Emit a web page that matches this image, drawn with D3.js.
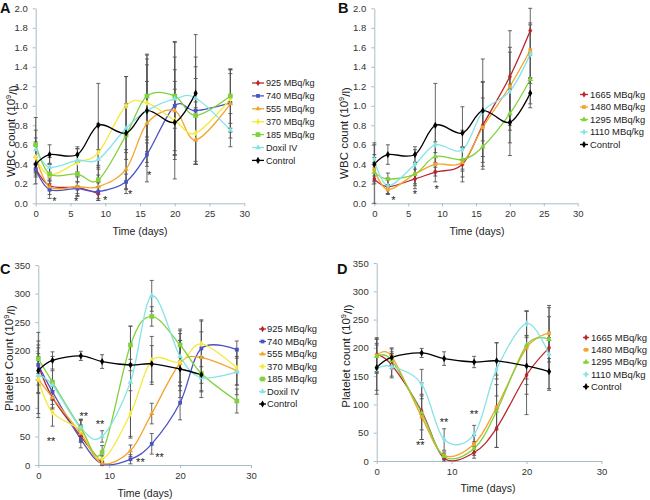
<!DOCTYPE html>
<html><head><meta charset="utf-8">
<script src="https://cdn.jsdelivr.net/npm/d3@7"></script>
<style>body{margin:0;background:#fff} svg{font-family:Arial,"Liberation Sans",sans-serif}</style>
</head><body><svg id="c" width="650" height="500"></svg>
<script>
// ---------- data ----------
const daysLong  = [0, 2, 6, 9, 13, 16, 20, 23, 28];
const daysShort = [0, 2, 6, 9, 13, 16, 20, 23];
const daysEarly = [0, 2, 6, 9];

const wbcTicks = [0, 0.2, 0.4, 0.6, 0.8, 1.0, 1.2, 1.4, 1.6, 1.8, 2.0];
const pltTicks = [0, 50, 100, 150, 200, 250, 300, 350];
const dayTicksAB = [0, 5, 10, 15, 20, 25, 30];
const dayTicksCD = [0, 10, 20, 30];

const namesAC = ["925 MBq/kg", "740 MBq/kg", "555 MBq/kg", "370 MBq/kg", "185 MBq/kg", "Doxil IV", "Control"];
const namesBD = ["1665 MBq/kg", "1480 MBq/kg", "1295 MBq/kg", "1110 MBq/kg", "Control"];

// Panel A: WBC count (10^9/l)
const wbcA_925   = [0.36, 0.18, 0.16, 0.10];
const wbcA_740   = [0.35, 0.14, 0.15, 0.12, 0.22, 0.50, 1.00, 0.95, 1.03];
const wbcA_555   = [0.48, 0.17, 0.17, 0.17, 0.35, 0.82, 0.95, 0.65, 1.02];
const wbcA_370   = [0.47, 0.29, 0.42, 0.52, 1.00, 1.03, 0.85, 0.72, 1.07];
const wbcA_185   = [0.60, 0.30, 0.30, 0.24, 0.70, 1.10, 1.10, 0.90, 1.10];
const wbcA_doxil = [0.55, 0.37, 0.44, 0.45, 0.77, 0.95, 1.07, 1.08, 0.75];
const wbcControl = [0.40, 0.50, 0.50, 0.80, 0.72, 0.95, 0.83, 1.13];
const errA_925   = [0.05, 0.05, 0.06, 0.07];
const errA_740   = [0.06, 0.09, 0.07, 0.09, 0.08, 0.12, 0.50, 0.55, 0.30];
const errA_555   = [0.15, 0.08, 0.10, 0.12, 0.20, 0.60, 0.70, 0.25, 0.35];
const errA_370   = [0.20, 0.12, 0.14, 0.30, 0.30, 0.50, 0.40, 0.32, 0.30];
const errA_185   = [0.28, 0.10, 0.12, 0.15, 0.60, 0.42, 0.56, 0.50, 0.28];
const errA_doxil = [0.20, 0.10, 0.12, 0.10, 0.25, 0.30, 0.30, 0.65, 0.17];
const errWbcControl = [0.20, 0.10, 0.08, 0.43, 0.27, 0.53, 0.34, 0.15];

// Panel B: WBC count (10^9/l)
const wbcB_1665 = [0.25, 0.17, 0.25, 0.32, 0.40, 0.80, 1.30, 1.77];
const wbcB_1480 = [0.35, 0.14, 0.30, 0.40, 0.42, 0.78, 1.20, 1.57];
const wbcB_1295 = [0.32, 0.25, 0.30, 0.48, 0.45, 0.58, 0.92, 1.27];
const wbcB_1110 = [0.45, 0.18, 0.40, 0.60, 0.55, 0.94, 1.15, 1.53];
const errB_1665 = [0.25, 0.07, 0.10, 0.10, 0.18, 0.45, 0.47, 0.23];
const errB_1480 = [0.12, 0.05, 0.12, 0.12, 0.15, 0.30, 0.40, 0.28];
const errB_1295 = [0.10, 0.06, 0.10, 0.15, 0.12, 0.20, 0.30, 0.25];
const errB_1110 = [0.17, 0.08, 0.15, 0.20, 0.20, 0.30, 0.40, 0.30];

// Panel C: Platelet count (10^9/l)
const pltC_925   = [175, 118, 50, 3];
const pltC_740   = [175, 128, 45, 2, 10, 37, 109, 204, 202];
const pltC_555   = [150, 118, 55, 3, 25, 90, 178, 188, 165];
const pltC_370   = [150, 92, 60, 10, 90, 183, 180, 212, 170];
const pltC_185   = [186, 145, 65, 22, 210, 260, 210, 160, 112];
const pltC_doxil = [157, 140, 65, 50, 145, 296, 190, 153, 163];
const pltControl = [165, 183, 191, 181, 175, 177, 168, 158];
const errC_925   = [15, 12, 10, 3];
const errC_740   = [20, 15, 15, 3, 8, 18, 30, 50, 15];
const errC_555   = [60, 20, 15, 4, 10, 18, 40, 45, 25];
const errC_370   = [67, 24, 18, 6, 40, 42, 50, 40, 30];
const errC_185   = [46, 45, 15, 12, 33, 17, 28, 30, 21];
const errC_doxil = [30, 25, 15, 10, 98, 27, 45, 35, 40];
const errPltControl = [40, 15, 8, 12, 10, 32, 50, 30];

// Panel D: Platelet count (10^9/l)
const pltD_1665 = [188, 170, 88, 5, 15, 58, 152, 200];
const pltD_1480 = [186, 185, 78, 10, 30, 95, 200, 226];
const pltD_1295 = [185, 178, 85, 8, 22, 88, 205, 215];
const pltD_1110 = [163, 167, 136, 38, 47, 162, 243, 188];
const errD_1665 = [30, 20, 50, 5, 10, 34, 70, 75];
const errD_1480 = [30, 15, 40, 6, 15, 40, 65, 45];
const errD_1295 = [30, 15, 30, 5, 12, 64, 60, 40];
const errD_1110 = [45, 20, 26, 19, 16, 47, 22, 30];

// significance marks [day, value, label]
const starsA = [[2.7, 0.03, "*"], [5.8, 0.03, "*"], [10.0, 0.04, "*"], [13.6, 0.11, "*"], [16.3, 0.30, "*"]];
const starsB = [[2.8, 0.04, "*"], [6.0, 0.11, "*"], [9.2, 0.16, "*"]];
const starsC = [[1.8, 44, "**"], [6.4, 87, "**"], [8.7, 73, "**"], [14.4, 7, "**"], [17.1, 16, "**"]];
const starsD = [[5.8, 30, "**"], [9.0, 71, "**"], [13.0, 85, "**"]];

// ---------- styles ----------
const C_RED = "#b8262d", C_BLUE = "#4a52c4", C_ORANGE = "#f2a42e", C_YELLOW = "#f4e93c",
      C_GREEN = "#7fd23b", C_CYAN = "#86e3e6", C_BLACK = "#000";
const AXIS = "#aabcc6";

function S(name, x, y, e, color, sym, size) { return {name, x, y, e, color, sym, size}; }

const panels = [
  { letter: "A", lx: 0, ly: 13, x0: 35.7, x1: 244.3, yb: 203.3, yt: 8.3, ymax: 2.0, yticks: wbcTicks, fmt: d3.format(".1f"),
    xticks: dayTicksAB, ytitle: "WBC count (10", ytx: 11, yty: 131, xtx: 140, xty: 235, 
    leg: {x0: 252, x1: 264, tx: 266, y0: 83, dy: 12.9, fs: 9.1}, stars: starsA,
    series: [
      S(namesAC[0], daysEarly, wbcA_925, errA_925, C_RED, d3.symbolDiamond, 13),
      S(namesAC[1], daysLong, wbcA_740, errA_740, C_BLUE, d3.symbolSquare, 14),
      S(namesAC[2], daysLong, wbcA_555, errA_555, C_ORANGE, d3.symbolTriangle, 12),
      S(namesAC[3], daysLong, wbcA_370, errA_370, C_YELLOW, d3.symbolDiamond, 13),
      S(namesAC[4], daysLong, wbcA_185, errA_185, C_GREEN, d3.symbolSquare, 22),
      S(namesAC[5], daysLong, wbcA_doxil, errA_doxil, C_CYAN, d3.symbolTriangle, 14),
      S(namesAC[6], daysShort, wbcControl, errWbcControl, C_BLACK, d3.symbolDiamond, 15)
    ]},
  { letter: "B", lx: 338, ly: 13, x0: 374.3, x1: 577.7, yb: 203.3, yt: 8.3, ymax: 2.0, yticks: wbcTicks, fmt: d3.format(".1f"),
    xticks: dayTicksAB, ytitle: "WBC count (10", ytx: 344, yty: 133, xtx: 477, xty: 235,
    leg: {x0: 580, x1: 588, tx: 590, y0: 94.5, dy: 12.5, fs: 9.4}, stars: starsB,
    series: [
      S(namesBD[0], daysShort, wbcB_1665, errB_1665, C_RED, d3.symbolDiamond, 13),
      S(namesBD[1], daysShort, wbcB_1480, errB_1480, C_ORANGE, d3.symbolSquare, 14),
      S(namesBD[2], daysShort, wbcB_1295, errB_1295, C_GREEN, d3.symbolTriangle, 14),
      S(namesBD[3], daysShort, wbcB_1110, errB_1110, C_CYAN, d3.symbolDiamond, 13),
      S(namesBD[4], daysShort, wbcControl, errWbcControl, C_BLACK, d3.symbolDiamond, 15)
    ]},
  { letter: "C", lx: 0, ly: 274, x0: 38.3, x1: 251, yb: 465, yt: 265, ymax: 350, yticks: pltTicks, fmt: d3.format("d"),
    xticks: dayTicksCD, ytitle: "Platelet Count (10", ytx: 9, yty: 358, xtx: 145, xty: 497,
    leg: {x0: 259, x1: 266, tx: 267, y0: 329, dy: 12.5, fs: 9.4}, stars: starsC,
    series: [
      S(namesAC[0], daysEarly, pltC_925, errC_925, C_RED, d3.symbolDiamond, 13),
      S(namesAC[1], daysLong, pltC_740, errC_740, C_BLUE, d3.symbolSquare, 14),
      S(namesAC[2], daysLong, pltC_555, errC_555, C_ORANGE, d3.symbolTriangle, 12),
      S(namesAC[3], daysLong, pltC_370, errC_370, C_YELLOW, d3.symbolDiamond, 13),
      S(namesAC[4], daysLong, pltC_185, errC_185, C_GREEN, d3.symbolSquare, 22),
      S(namesAC[5], daysLong, pltC_doxil, errC_doxil, C_CYAN, d3.symbolTriangle, 14),
      S(namesAC[6], daysShort, pltControl, errPltControl, C_BLACK, d3.symbolDiamond, 15)
    ]},
  { letter: "D", lx: 337, ly: 274, x0: 376.7, x1: 601.5, yb: 461, yt: 263, ymax: 350, yticks: pltTicks, fmt: d3.format("d"),
    xticks: dayTicksCD, ytitle: "Platelet count (10", ytx: 346, yty: 356, xtx: 488, xty: 492,
    leg: {x0: 583, x1: 589, tx: 591, y0: 337.5, dy: 12.3, fs: 9.5}, stars: starsD,
    series: [
      S(namesBD[0], daysShort, pltD_1665, errD_1665, C_RED, d3.symbolDiamond, 13),
      S(namesBD[1], daysShort, pltD_1480, errD_1480, C_ORANGE, d3.symbolSquare, 14),
      S(namesBD[2], daysShort, pltD_1295, errD_1295, C_GREEN, d3.symbolTriangle, 14),
      S(namesBD[3], daysShort, pltD_1110, errD_1110, C_CYAN, d3.symbolDiamond, 13),
      S(namesBD[4], daysShort, pltControl, errPltControl, C_BLACK, d3.symbolDiamond, 15)
    ]}
];

const svg = d3.select("#c");

panels.forEach(p => {
  const g = svg.append("g");
  const x = d3.scaleLinear().domain([0, 30]).range([p.x0, p.x1]);
  const y = d3.scaleLinear().domain([0, p.ymax]).range([p.yb, p.yt]);

  // axes
  const xa = g.append("g").attr("transform", `translate(0,${p.yb})`)
    .call(d3.axisBottom(x).tickValues(p.xticks).tickSize(3).tickSizeOuter(0).tickPadding(4).tickFormat(d3.format("d")));
  const ya = g.append("g").attr("transform", `translate(${p.x0},0)`)
    .call(d3.axisLeft(y).tickValues(p.yticks).tickSize(3).tickSizeOuter(0).tickPadding(5).tickFormat(p.fmt));
  [xa, ya].forEach(a => {
    a.select(".domain").attr("stroke", AXIS).attr("stroke-width", 1);
    a.selectAll(".tick line").attr("stroke", AXIS);
    a.selectAll(".tick text").attr("fill", "#333").attr("font-size", 9.5).attr("font-family", "Arial, Liberation Sans, sans-serif");
  });

  // axis titles
  g.append("text").attr("x", p.xtx).attr("y", p.xty).attr("text-anchor", "middle")
    .attr("font-size", 10.5).attr("fill", "#222").text("Time (days)");
  const yt = g.append("text").attr("transform", `translate(${p.ytx},${p.yty}) rotate(-90)`)
    .attr("text-anchor", "middle").attr("dy", "0.35em").attr("font-size", 11.5).attr("fill", "#222");
  yt.append("tspan").text(p.ytitle);
  yt.append("tspan").attr("font-size", 7.5).attr("dy", "-0.5em").text("9");
  yt.append("tspan").attr("dy", "0.5em").text("/l)");

  // panel letter
  g.append("text").attr("x", p.lx).attr("y", p.ly).attr("font-size", 14.5).attr("font-weight", "bold")
    .attr("fill", "#111").text(p.letter);

  const line = d3.line().x(d => x(d[0])).y(d => y(d[1])).curve(d3.curveCatmullRom.alpha(0));

  // lines
  p.series.forEach(s => {
    const pts = s.x.map((d, i) => [d, s.y[i]]);
    g.append("path").attr("d", line(pts)).attr("fill", "none").attr("stroke", s.color).attr("stroke-width", 1.3);
  });

  // error bars
  p.series.forEach(s => {
    s.x.forEach((d, i) => {
      const cx = x(d), lo = y(Math.max(0, s.y[i] - s.e[i])), hi = y(s.y[i] + s.e[i]);
      g.append("line").attr("x1", cx).attr("x2", cx).attr("y1", lo).attr("y2", hi).attr("stroke", "#555").attr("stroke-width", 0.9);
      [lo, hi].forEach(yy => g.append("line").attr("x1", cx - 2).attr("x2", cx + 2).attr("y1", yy).attr("y2", yy)
        .attr("stroke", "#555").attr("stroke-width", 0.9));
    });
  });

  // markers
  p.series.forEach(s => {
    const sym = d3.symbol().type(s.sym).size(s.size);
    s.x.forEach((d, i) => {
      g.append("path").attr("d", sym()).attr("transform", `translate(${x(d)},${y(s.y[i])})`).attr("fill", s.color);
    });
  });

  // significance marks
  p.stars.forEach(st => {
    g.append("text").attr("x", x(st[0])).attr("y", y(st[1]) + 5).attr("text-anchor", "middle")
      .attr("font-size", 11).attr("fill", "#222").text(st[2]);
  });

  // legend
  p.series.forEach((s, i) => {
    const ly = p.leg.y0 + i * p.leg.dy;
    g.append("line").attr("x1", p.leg.x0).attr("x2", p.leg.x1).attr("y1", ly).attr("y2", ly)
      .attr("stroke", s.color).attr("stroke-width", 1.3);
    g.append("path").attr("d", d3.symbol().type(s.sym).size(s.size)())
      .attr("transform", `translate(${(p.leg.x0 + p.leg.x1) / 2},${ly})`).attr("fill", s.color);
    g.append("text").attr("x", p.leg.tx).attr("y", ly).attr("dy", "0.35em").attr("font-size", p.leg.fs)
      .attr("fill", "#222").text(s.name);
  });
});
</script></body></html>
